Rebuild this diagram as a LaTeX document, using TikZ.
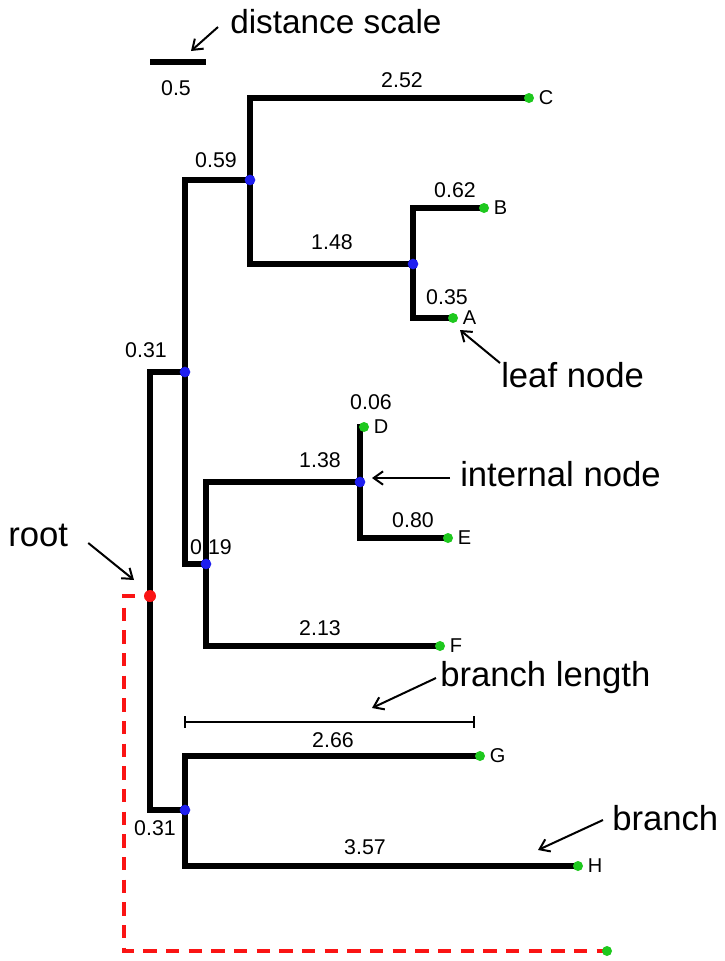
\documentclass[tikz,border=0pt]{standalone}
\usepackage{fontspec}
\setmainfont{Liberation Sans}
\usetikzlibrary{arrows.meta, positioning}
\definecolor{leafgreen}{RGB}{30,200,30}
\definecolor{nodeblue}{RGB}{30,30,240}
\definecolor{rootred}{RGB}{250,20,20}

\begin{document}
\begin{tikzpicture}[x=0.75pt, y=-0.75pt,
  branch/.style={line width=4.2pt, line join=miter},
  leafdot/.style={circle, fill=leafgreen, inner sep=0pt, minimum size=7.5pt},
  innerdot/.style={circle, fill=nodeblue, inner sep=0pt, minimum size=8pt},
  rootdot/.style={circle, fill=rootred, inner sep=0pt, minimum size=9pt},
  lenlabel/.style={font=\fontsize{16}{18}\selectfont},
  taxon/.style={font=\fontsize{15}{17}\selectfont},
  callout/.style={font=\fontsize{26}{30}\selectfont, inner sep=0pt},
  pointer/.style={line width=1.5pt, -{Straight Barb[length=7pt,width=10pt]}},
  rootline/.style={draw=rootred, line width=2.5pt, dash pattern=on 10pt off 7pt}
]
\useasboundingbox (0,0) rectangle (725,961);

% tree points
\coordinate (root) at (150,596);
\coordinate (n1) at (185,372);
\coordinate (n2) at (250,180);
\coordinate (n3) at (206,564);
\coordinate (n4) at (413,264);
\coordinate (n5) at (360,482);
\coordinate (n6) at (185,810);
\coordinate (C) at (529,98);
\coordinate (B) at (484,208);
\coordinate (A) at (453,318);
\coordinate (D) at (364,427);
\coordinate (E) at (448,538);
\coordinate (F) at (440,646);
\coordinate (G) at (480,756);
\coordinate (H) at (578,866);
\coordinate (out) at (607,951);

% branch lengths
\node[lenlabel] (l252) at (402,80) {2.52};
\node[lenlabel] (l059) at (216,160) {0.59};
\node[lenlabel] (l148) at (332,242) {1.48};
\node[lenlabel] (l062) at (455,190) {0.62};
\node[lenlabel] (l035) at (447,297) {0.35};
\node[lenlabel] (l031a) at (146,350) {0.31};
\node[lenlabel] (l006) at (371,402) {0.06};
\node[lenlabel] (l138) at (320,460) {1.38};
\node[lenlabel] (l080) at (413,520) {0.80};
\node[lenlabel] (l019) at (211,547) {0.19};
\node[lenlabel] (l213) at (320,628) {2.13};
\node[lenlabel] (l266) at (333,740) {2.66};
\node[lenlabel] (l031b) at (155,828) {0.31};
\node[lenlabel] (l357) at (365,847) {3.57};

% the tree
\draw[branch] (root) |- (n1) (root) |- (n6);
\draw[branch] (n1) |- (n2) (n1) |- (n3);
\draw[branch] (n2) |- (C) (n2) |- (n4);
\draw[branch] (n4) |- (B) (n4) |- (A);
\draw[branch] (n3) |- (n5) (n3) |- (F);
\draw[branch] (n5) |- (D) (n5) |- (E);
\draw[branch] (n6) |- (G) (n6) |- (H);

% outgroup
\coordinate (rd) at (135,596);
\draw[rootline] (rd) -| (124,951) -- (out);

% dots
\foreach \p in {n1,n2,n3,n4,n5,n6}
  \node[innerdot] (\p dot) at (\p) {};
\foreach \p in {C,B,A,D,E,F,G,H}
  \node[leafdot, label={[taxon, label distance=0pt]right:\p}] (\p dot) at (\p) {};
\node[leafdot] (outdot) at (out) {};
\node[rootdot] (rootdot) at (root) {};

% distance scale
\coordinate (sbL) at (150,62);
\coordinate (sbR) at (206,62);
\draw[line width=3.8pt] (sbL) -- (sbR);
\node[lenlabel] (sbval) at (176,88) {0.5};

% branch length bar
\coordinate (blL) at (184,722);
\coordinate (blR) at (475,722);
\draw[line width=1.2pt, {Bar[width=9pt]}-{Bar[width=9pt]}] (blL) -- (blR);

% callouts
\node[callout, anchor=west, font=\fontsize{25}{29}\selectfont] (distlbl) at (230,22) {distance scale};
\node[callout, anchor=west] (leaflbl) at (501,375) {leaf node};
\node[callout, anchor=west] (intlbl) at (460,474) {internal node};
\node[callout, anchor=west] (rootlbl) at (8,535) {root};
\node[callout, anchor=west] (bllbl) at (440,678) {branch length};
\node[callout, anchor=west] (brlbl) at (612,818) {branch};

\coordinate (distTip) at (191,51);
\coordinate (leafTip) at (460,330);
\coordinate (intTip) at (372,478);
\coordinate (rootTip) at (134,580);
\coordinate (blTip) at (372,708);
\coordinate (brTip) at (538,850);

\draw[pointer] ([shift={(-12,5)}]distlbl.west) -- (distTip);
\draw[pointer] ([shift={(-1,-12)}]leaflbl.west) -- (leafTip);
\draw[pointer] ([shift={(-10,4)}]intlbl.west) -- (intTip);
\draw[pointer] ([shift={(20,8)}]rootlbl.east) -- (rootTip);
\draw[pointer] ([shift={(-4,0)}]bllbl.west) -- (blTip);
\draw[pointer] ([shift={(-9,2)}]brlbl.west) -- (brTip);
\end{tikzpicture}
\end{document}
